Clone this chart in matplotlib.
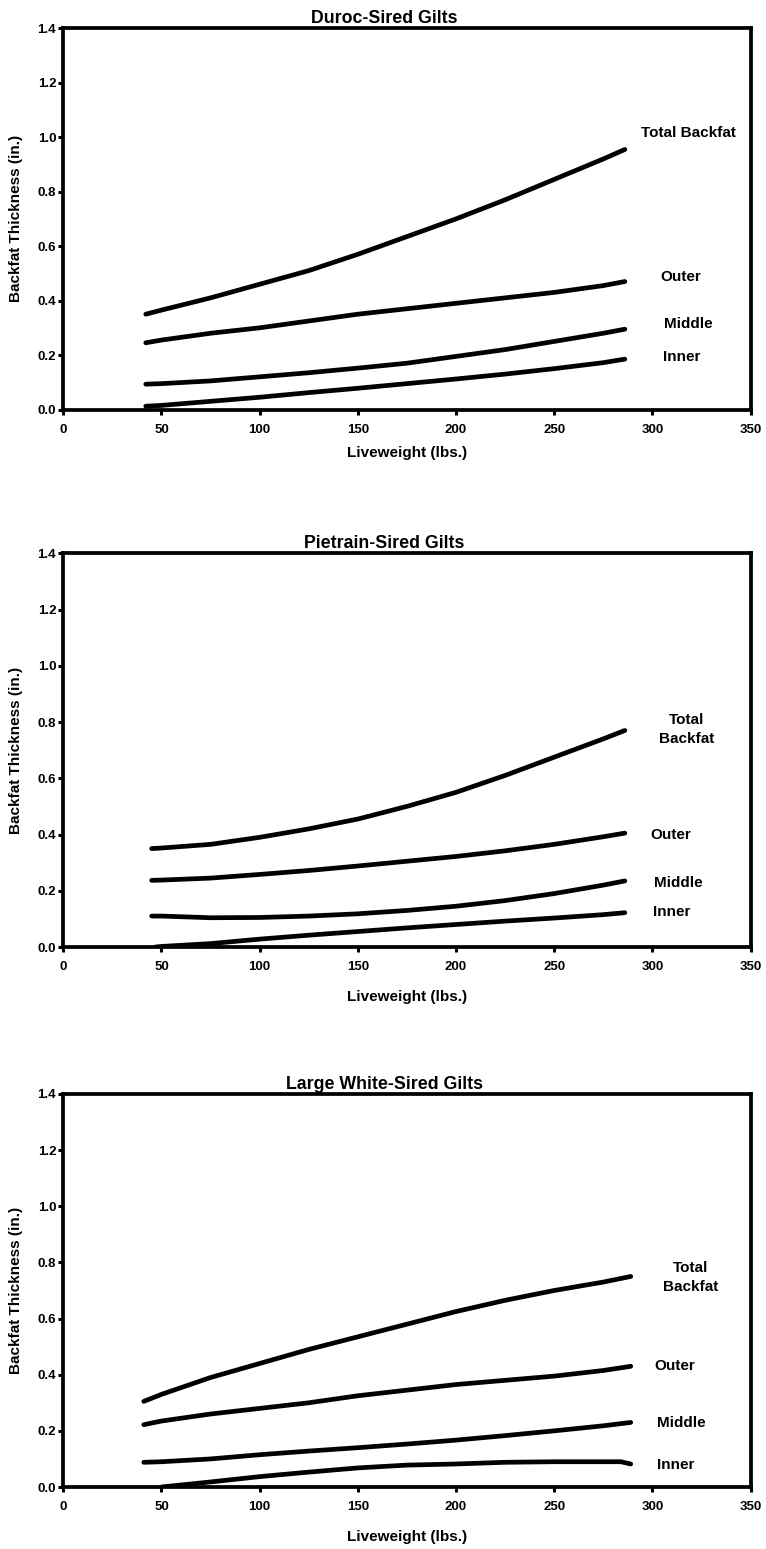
import matplotlib
matplotlib.use("Agg")
import matplotlib.pyplot as plt
from matplotlib.ticker import FormatStrFormatter

plt.rcParams["font.family"] = ["Liberation Sans", "DejaVu Sans"]
plt.rcParams["font.weight"] = "bold"

# ---- data (liveweight lbs, backfat in.) ----
duroc_lw = [42, 50, 75, 100, 125, 150, 175, 200, 225, 250, 275, 286]
duroc_total = [0.35, 0.365, 0.41, 0.46, 0.51, 0.57, 0.635, 0.70, 0.77, 0.845, 0.92, 0.955]
duroc_outer = [0.245, 0.255, 0.28, 0.30, 0.325, 0.35, 0.37, 0.39, 0.41, 0.43, 0.455, 0.47]
duroc_middle = [0.093, 0.095, 0.105, 0.12, 0.135, 0.152, 0.17, 0.195, 0.22, 0.25, 0.28, 0.295]
duroc_inner = [0.012, 0.015, 0.03, 0.045, 0.062, 0.078, 0.095, 0.112, 0.13, 0.15, 0.172, 0.185]

pietrain_lw = [45, 50, 75, 100, 125, 150, 175, 200, 225, 250, 275, 286]
pietrain_total = [0.35, 0.352, 0.365, 0.39, 0.42, 0.455, 0.50, 0.55, 0.61, 0.675, 0.74, 0.77]
pietrain_outer = [0.237, 0.238, 0.245, 0.258, 0.272, 0.288, 0.305, 0.322, 0.342, 0.365, 0.392, 0.405]
pietrain_middle = [0.11, 0.11, 0.104, 0.105, 0.11, 0.118, 0.13, 0.145, 0.165, 0.19, 0.22, 0.235]
pietrain_inner_lw = [47, 50, 75, 100, 125, 150, 175, 200, 225, 250, 275, 286]
pietrain_inner = [0.0, 0.002, 0.012, 0.028, 0.042, 0.055, 0.068, 0.08, 0.092, 0.103, 0.115, 0.122]

lw_lw = [41, 50, 75, 100, 125, 150, 175, 200, 225, 250, 275, 289]
lw_total = [0.305, 0.33, 0.39, 0.44, 0.49, 0.535, 0.58, 0.625, 0.665, 0.70, 0.73, 0.75]
lw_outer = [0.222, 0.235, 0.26, 0.28, 0.30, 0.325, 0.345, 0.365, 0.38, 0.395, 0.415, 0.43]
lw_middle = [0.088, 0.09, 0.10, 0.115, 0.128, 0.14, 0.153, 0.167, 0.183, 0.20, 0.218, 0.23]
lw_inner_lw = [50, 75, 100, 125, 150, 175, 200, 225, 250, 275, 284, 289]
lw_inner = [0.0, 0.018, 0.037, 0.053, 0.068, 0.078, 0.082, 0.088, 0.09, 0.09, 0.09, 0.082]

titles = ["Duroc-Sired Gilts", "Pietrain-Sired Gilts", "Large White-Sired Gilts"]
curve_names = ["Total Backfat", "Outer", "Middle", "Inner"]
x_ticks = [0, 50, 100, 150, 200, 250, 300, 350]
y_ticks = [0.0, 0.2, 0.4, 0.6, 0.8, 1.0, 1.2, 1.4]

panels = [
    [(duroc_lw, duroc_total), (duroc_lw, duroc_outer),
     (duroc_lw, duroc_middle), (duroc_lw, duroc_inner)],
    [(pietrain_lw, pietrain_total), (pietrain_lw, pietrain_outer),
     (pietrain_lw, pietrain_middle), (pietrain_inner_lw, pietrain_inner)],
    [(lw_lw, lw_total), (lw_lw, lw_outer),
     (lw_lw, lw_middle), (lw_inner_lw, lw_inner)],
]

# ---- layout (pixels in a 766x1549 canvas) ----
W, H = 766, 1549
fig = plt.figure(figsize=(W / 100, H / 100), dpi=100)

axes_px = [(28.3, 409.5), (553.3, 947.0), (1094.0, 1487.0)]  # top, bottom
xlabel_gap = [37, 43, 43]
label_spots = [
    # (x, y, ha, text override)
    [(294, 1.015, "left", None), (304, 0.487, "left", None),
     (306, 0.315, "left", None), (305.5, 0.194, "left", None)],
    [(317.5, 0.773, "center", "Total\nBackfat"), (299, 0.398, "left", None),
     (301, 0.2285, "left", None), (300.5, 0.123, "left", None)],
    [(319.5, 0.745, "center", "Total\nBackfat"), (301, 0.432, "left", None),
     (302.5, 0.229, "left", None), (302.5, 0.078, "left", None)],
]

left_px, right_px = 63.3, 750.5
for i, (title, series) in enumerate(zip(titles, panels)):
    top, bot = axes_px[i]
    ax = fig.add_axes([left_px / W, 1 - bot / H, (right_px - left_px) / W, (bot - top) / H])

    for (sx, sy) in series:
        ax.plot(sx, sy, color="black", lw=3.4, solid_capstyle="round")

    for name, (tx, ty, ha, override) in zip(curve_names, label_spots[i]):
        ax.text(tx, ty, override or name, ha=ha, va="center", fontsize=11,
                fontweight="bold", linespacing=1.45, multialignment="center")

    ax.set_xlim(0, 350)
    ax.set_ylim(0, 1.4)
    ax.set_xticks(x_ticks)
    ax.set_yticks(y_ticks)
    ax.yaxis.set_major_formatter(FormatStrFormatter("%.1f"))
    for sp in ax.spines.values():
        sp.set_linewidth(2.7)
    ax.tick_params(axis="both", direction="out", length=3.6, width=2.2,
                   labelsize=9.5, top=False, right=False)
    ax.tick_params(axis="x", pad=6.5)
    ax.tick_params(axis="y", pad=1.5)
    for lab in ax.get_xticklabels() + ax.get_yticklabels():
        lab.set_fontweight("bold")

    ax.set_title(title, fontsize=12.8, fontweight="bold", pad=3.6,
                 x=(384 - left_px) / (right_px - left_px))
    ax.set_xlabel("Liveweight (lbs.)", fontsize=11, fontweight="bold")
    ax.xaxis.set_label_coords(0.5, -xlabel_gap[i] / (bot - top))
    ax.set_ylabel("Backfat Thickness (in.)", fontsize=11, fontweight="bold")
    # rotated label is anchored at its right-hand edge
    ax.yaxis.set_label_coords((23.5 - left_px) / (right_px - left_px), 0.5)

fig.savefig("out.png", dpi=100)
